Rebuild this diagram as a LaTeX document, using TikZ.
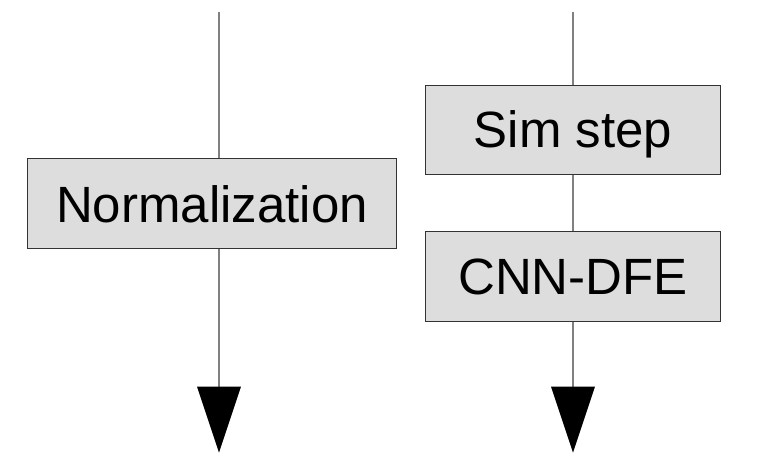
\documentclass[tikz,border=0pt]{standalone}
\usepackage{fontspec}
\setmainfont{Liberation Sans}
\usepackage{tikz}
\usetikzlibrary{arrows.meta, positioning}
\definecolor{boxgray}{RGB}{221,221,221}
\definecolor{edgegray}{RGB}{51,51,51}
\definecolor{wiregray}{RGB}{128,128,128}

\begin{document}
\begin{tikzpicture}[x=0.5pt, y=-0.5pt,
  block/.style={draw=edgegray, fill=boxgray, line width=0.5pt, inner sep=0pt,
    text height=18.3pt, text depth=0pt, font=\fontsize{25.5}{30}\selectfont},
  wire/.style={draw=wiregray, line width=0.75pt},
  flow/.style={wire, -{Triangle[width=22pt, length=33pt, color=black, line width=0pt]}}]
\useasboundingbox (0,0) rectangle (776,476);
\coordinate (inL) at (219,12);
\coordinate (outL) at (219,452.7);
\coordinate (inR) at (573,12);
\coordinate (outR) at (573,452.7);
\node[block, minimum width=184.7pt, minimum height=44.85pt] (norm) at (212,203.8) {Normalization};
\node[block, minimum width=147.5pt, minimum height=44.65pt] (sim) at (573,129.7) {Sim step};
\node[block, minimum width=147.5pt, minimum height=45pt] (cnn) at (573,276) {CNN-DFE};
\draw[wire] (inL) -- (inL |- norm.north);
\draw[flow] (inL |- norm.south) -- (outL);
\draw[wire] (inR) -- (sim);
\draw[wire] (sim) -- (cnn);
\draw[flow] (cnn) -- (outR);
\end{tikzpicture}
\end{document}
